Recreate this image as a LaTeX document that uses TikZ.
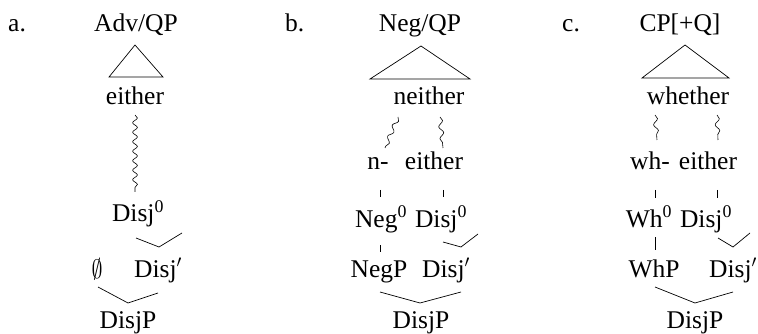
\documentclass[tikz,border=0pt]{standalone}
\usepackage{fontspec}
\setmainfont{Liberation Serif}
\usetikzlibrary{decorations.pathmorphing}
\begin{document}
\begin{tikzpicture}[x=1pt,y=-1pt,
  lab/.style={anchor=base,inner sep=0pt,font=\fontsize{25.5}{30}\selectfont},
  num/.style={anchor=base west,inner sep=0pt,font=\fontsize{25.5}{30}\selectfont},
  br/.style={line width=0.7pt},
  wav/.style={line width=0.6pt,decorate,decoration={snake,amplitude=2.4pt,segment length=9.5pt}},
  wavs/.style={line width=0.6pt,decorate,decoration={snake,amplitude=2.2pt,segment length=12pt}}]
\useasboundingbox (0,0) rectangle (758,334);
% ---------- a ----------
\node[num] (la) at (8,32) {a.};
\node[lab] (a1) at (136,32) {Adv/QP};
\coordinate (aT) at (135,45); \coordinate (aL) at (109,77); \coordinate (aR) at (163,77);
\draw[br] (aT) -- (aL) -- (aR) -- cycle;
\node[lab] (a2) at (135,105) {either};
\coordinate (aw1) at (135,115); \coordinate (aw2) at (135,192);
\draw[wav] (aw1) -- (aw2);
\node[lab] (a3) at (138,222) {Disj\textsuperscript{0}};
\coordinate (av1) at (136,238); \coordinate (av2) at (159,247); \coordinate (av3) at (182,233);
\draw[br] (av1) -- (av2) -- (av3);
\node[lab] (a4) at (97,277) {\raisebox{-1.5pt}{\resizebox{11pt}{20pt}{$\emptyset$}}};
\node[lab] (a5) at (158,277) {Disj$'$};
\coordinate (ab1) at (98,287); \coordinate (ab2) at (128,303); \coordinate (ab3) at (158,293);
\draw[br] (ab1) -- (ab2) -- (ab3);
\node[lab] (a6) at (128,328) {DisjP};
% ---------- b ----------
\node[num] (lb) at (285,32) {b.};
\node[lab] (b1) at (420,32) {Neg/QP};
\coordinate (bT) at (421,46); \coordinate (bL) at (370,79); \coordinate (bR) at (470,79);
\draw[br] (bT) -- (bL) -- (bR) -- cycle;
\node[lab] (b2) at (429,105) {neither};
\coordinate (bw1) at (398,117); \coordinate (bw2) at (385,148);
\coordinate (bw3) at (440,117); \coordinate (bw4) at (443,148);
\draw[wavs] (bw1) -- (bw2);
\draw[wavs] (bw3) -- (bw4);
\node[lab] (b3) at (378,170) {n-};
\node[lab] (b4) at (434,170) {either};
\coordinate (bs1) at (380,190); \coordinate (bs2) at (380,197);
\coordinate (bs3) at (443,190); \coordinate (bs4) at (443,197);
\draw[br] (bs1) -- (bs2);
\draw[br] (bs3) -- (bs4);
\node[lab] (b5) at (381,227) {Neg\textsuperscript{0}};
\node[lab] (b6) at (441,227) {Disj\textsuperscript{0}};
\coordinate (bs5) at (380,245); \coordinate (bs6) at (380,252);
\draw[br] (bs5) -- (bs6);
\coordinate (bv1) at (443,242); \coordinate (bv2) at (461,247); \coordinate (bv3) at (478,234);
\draw[br] (bv1) -- (bv2) -- (bv3);
\node[lab] (b7) at (379,277) {NegP};
\node[lab] (b8) at (446,277) {Disj$'$};
\coordinate (bb1) at (380,292); \coordinate (bb2) at (420,303); \coordinate (bb3) at (461,292);
\draw[br] (bb1) -- (bb2) -- (bb3);
\node[lab] (b9) at (421,328) {DisjP};
% ---------- c ----------
\node[num] (lc) at (562,32) {c.};
\node[lab] (c1) at (680,32) {CP[+Q]};
\coordinate (cT) at (685,45); \coordinate (cL) at (642,78); \coordinate (cR) at (729,78);
\draw[br] (cT) -- (cL) -- (cR) -- cycle;
\node[lab] (c2) at (688,105) {whether};
\coordinate (cw1) at (655,115); \coordinate (cw2) at (657,140);
\coordinate (cw3) at (717,115); \coordinate (cw4) at (718,140);
\draw[wavs] (cw1) -- (cw2);
\draw[wavs] (cw3) -- (cw4);
\node[lab] (c3) at (650,170) {wh-};
\node[lab] (c4) at (708,170) {either};
\coordinate (cs1) at (655,190); \coordinate (cs2) at (655,198);
\coordinate (cs3) at (717,190); \coordinate (cs4) at (717,198);
\draw[br] (cs1) -- (cs2);
\draw[br] (cs3) -- (cs4);
\node[lab] (c5) at (649,227) {Wh\textsuperscript{0}};
\node[lab] (c6) at (706,227) {Disj\textsuperscript{0}};
\coordinate (cs5) at (655,237); \coordinate (cs6) at (655,250);
\draw[br] (cs5) -- (cs6);
\coordinate (cv1) at (718,238); \coordinate (cv2) at (733,247); \coordinate (cv3) at (750,233);
\draw[br] (cv1) -- (cv2) -- (cv3);
\node[lab] (c7) at (654,277) {WhP};
\node[lab] (c8) at (733,277) {Disj$'$};
\coordinate (cb1) at (655,287); \coordinate (cb2) at (695,303); \coordinate (cb3) at (733,292);
\draw[br] (cb1) -- (cb2) -- (cb3);
\node[lab] (c9) at (695,328) {DisjP};
\end{tikzpicture}
\end{document}
